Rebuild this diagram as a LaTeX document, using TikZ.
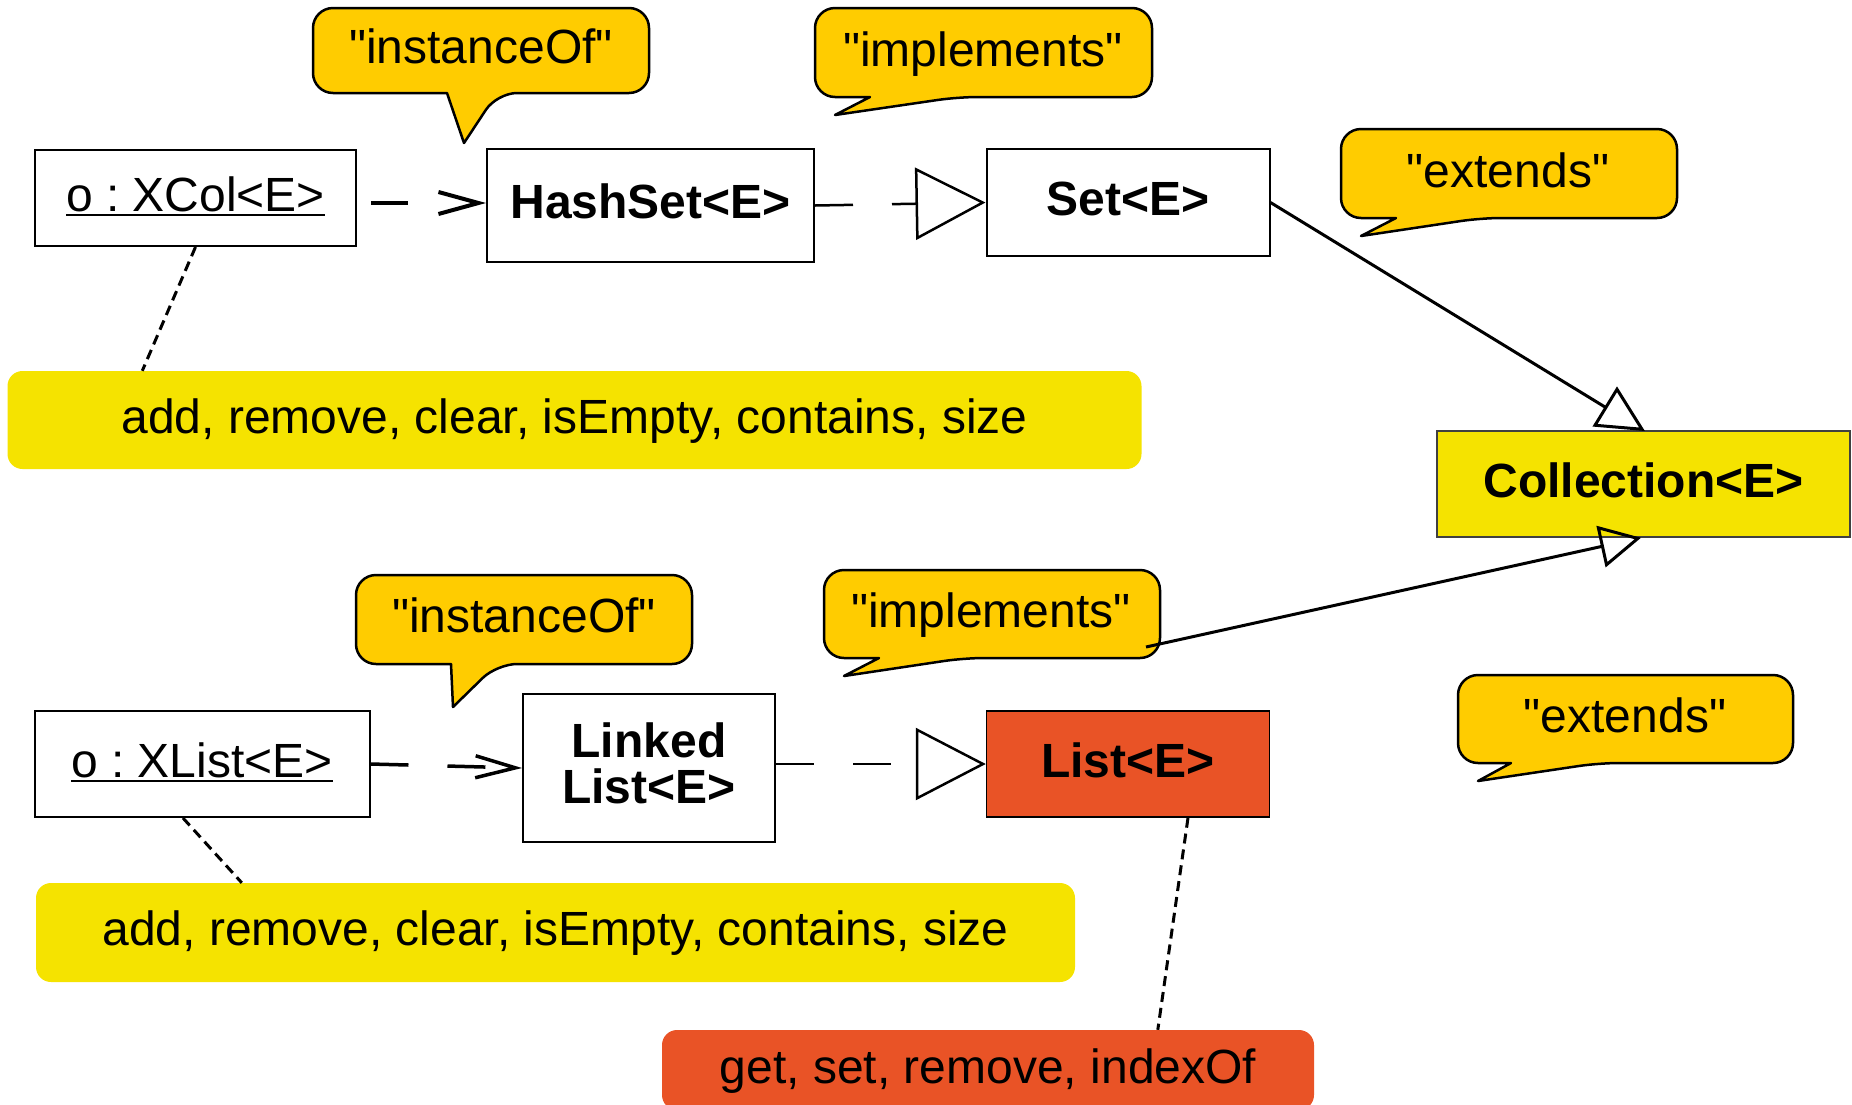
\documentclass[tikz,border=0pt]{standalone}
\usepackage{fontspec}
\setmainfont{Liberation Sans}[Ligatures=TeXOff]
\usetikzlibrary{arrows.meta}
\definecolor{noteyellow}{RGB}{245,227,0}
\definecolor{calloutgold}{RGB}{255,204,0}
\definecolor{listred}{RGB}{233,83,38}
\newcommand{\myul}[1]{\setbox0\hbox{#1}\rlap{\rule[-5pt]{\wd0}{2.2pt}}\box0}
\newcommand{\drawbubble}[7]{%
  \filldraw[bubblestyle] ({(#1+#3)/2},#2) [rounded corners=20pt] -- (#3,#2) -- (#3,#4) -- (#6,#4) [sharp corners] -- (#7) -- (#5,#4) [rounded corners=20pt] -- (#1,#4) -- (#1,#2) -- cycle;}
\begin{document}
\begin{tikzpicture}[x=1pt,y=-1pt,
  plaintxt/.style={inner sep=0pt, font=\fontsize{48}{46}\selectfont\frenchspacing},
  boldtxt/.style={inner sep=0pt, font=\fontsize{48}{46}\selectfont\frenchspacing\bfseries},
  onel/.style={text height=34pt, text depth=8pt},
  umlbox/.style={draw=black, line width=2pt, fill=white},
  notebox/.style={plaintxt, onel, rounded corners=15pt},
  bubblestyle/.style={fill=calloutgold, draw=black, line width=2.5pt, line join=round},
  dotline/.style={line width=3pt, dash pattern=on 10pt off 6pt},
  depline/.style={dash pattern=on 38pt off 39pt},
  stickhead/.style={-{Straight Barb[length=40pt,width=22pt]}},
  realhead/.style={-{Triangle[open,length=70pt,width=72pt]}}
]
\useasboundingbox (0,0) rectangle (1852,1104);

% notes
\node[notebox, fill=noteyellow, minimum width=1134pt, minimum height=98pt] (note1) at (574.5,420) {add, remove, clear, isEmpty, contains, size};
\node[notebox, fill=noteyellow, minimum width=1039pt, minimum height=99pt] (note2) at (555.5,932.5) {add, remove, clear, isEmpty, contains, size};
\node[notebox, fill=listred, minimum width=652pt, minimum height=80pt] (note3) at (988,1070) {get, set, remove, indexOf};

% boxes
\node[plaintxt, onel, umlbox, minimum width=321pt, minimum height=96pt] (oxcol) at (195.5,198) {\myul{o : XCol<E>}};
\node[boldtxt, onel, umlbox, minimum width=327pt, minimum height=113pt] (hashset) at (650.5,205.5) {HashSet<E>};
\node[boldtxt, onel, umlbox, minimum width=283pt, minimum height=107pt] (set) at (1128,202.5) {Set<E>};
\node[boldtxt, onel, umlbox, fill=noteyellow, draw=black!75, line width=1.5pt, minimum width=413pt, minimum height=106pt] (coll) at (1643.5,484) {Collection<E>};
\node[plaintxt, onel, umlbox, minimum width=335pt, minimum height=106pt] (oxlist) at (202,764) {\myul{o : XList<E>}};
\node[boldtxt, umlbox, align=center, text height=80pt, text depth=10pt, minimum width=252pt, minimum height=148pt] (linked) at (649,768) {Linked\\List<E>};
\node[boldtxt, onel, umlbox, fill=listred, line width=1.5pt, minimum width=283pt, minimum height=106pt] (list) at (1128,764) {List<E>};

% callouts
\drawbubble{313}{8}{649}{93}{447}{497}{464,143}
\drawbubble{815}{8}{1152}{97}{870}{958}{835,115}
\drawbubble{1341}{129}{1677}{218}{1396}{1481}{1361,236}
\drawbubble{356}{575}{692}{664}{451}{497}{453,707}
\drawbubble{824}{570}{1160}{658}{879}{964}{844,676}
\drawbubble{1458}{675}{1793}{763}{1511}{1599}{1478,781}
\node[plaintxt, anchor=base] (ti1) at (481,63) {"instanceOf"};
\node[plaintxt, anchor=base] (tm1) at (983,66) {"implements"};
\node[plaintxt, anchor=base] (te1) at (1508,187) {"extends"};
\node[plaintxt, anchor=base] (ti2) at (524,632) {"instanceOf"};
\node[plaintxt, anchor=base] (tm2) at (991,627) {"implements"};
\node[plaintxt, anchor=base] (te2) at (1625,732) {"extends"};

% connectors
\draw[line width=4pt, dash pattern=on 37pt off 200pt, dash phase=223pt, stickhead] ([yshift=-5pt]oxcol.east) -- ([yshift=2.5pt]hashset.west);
\draw[line width=2.5pt, depline, realhead] (hashset.east) -- (set.west);
\draw[line width=3.5pt, depline, stickhead] (oxlist.east) -- (linked.west);
\draw[line width=2.5pt, depline, realhead] (linked.east |- list.west) -- (list.west);

\draw[line width=3pt] (set.east) -- ([shift={(-36.5,-22)}]coll.north);
\filldraw[fill=white, line width=3pt] ([shift={(-26.5,-41)}]coll.north) -- ([shift={(-1.5,-1)}]coll.north) -- ([shift={(-48.5,-5)}]coll.north) -- cycle;

\coordinate (impl2end) at (1146,647);
\draw[line width=3pt, -{Triangle[open,length=41pt,width=42pt]}] (impl2end) -- ([xshift=-2.5pt]coll.south);

\draw[dotline] (oxcol.south) -- ([xshift=135pt]note1.north west);
\draw[dotline] ([xshift=-19pt]oxlist.south) -- ([xshift=206pt]note2.north west);
\draw[dotline] ([xshift=60pt]list.south) -- ([xshift=496pt]note3.north west);
\end{tikzpicture}
\end{document}
